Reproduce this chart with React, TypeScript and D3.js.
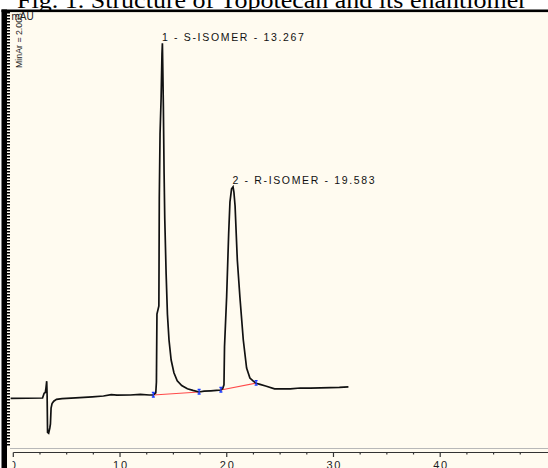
import React from "react";
import * as d3 from "d3";

const W = 548;
const H = 468;

// Chromatogram trace: time on the printed axis (min) and detector signal (mAU)
const traceTime = [
  -0.25, 2.74, 2.89, 3.0, 3.06, 3.13, 3.17, 3.21, 3.31, 3.42, 3.48, 3.54, 3.63, 3.79, 4.05, 4.57,
  5.83, 7.4, 8.45, 9.18, 9.71, 10.96, 11.91, 12.74, 13.12, 13.35, 13.41, 13.46, 13.64, 13.68,
  13.75, 13.85, 13.93, 13.97, 14.01, 14.06, 14.13, 14.19, 14.32, 14.44, 14.59, 14.79,
  15.05, 15.36, 15.78, 16.31, 16.83, 17.41, 17.88, 18.51, 19.03, 19.45, 19.62, 19.74, 19.79,
  19.99, 20.18, 20.3, 20.45, 20.59, 20.67, 20.78, 20.99, 21.23, 21.55, 21.86, 22.17, 22.49,
  22.75, 23.12, 23.64, 24.48, 25.21, 25.95, 26.89, 27.83, 28.78, 29.72, 30.55, 31.4,
];
const traceSignal = [
  -0.1, 0, 1.2, 1.4, 2.5, 4.2, 0.5, -8.6, -8.8, -7.5, -6.5, -2.5, -1.4, -0.8, -0.35, -0.15,
  0.05, 0.3, 0.5, 0.85, 0.7, 0.75, 0.9, 0.75, 0.75, 1.3, 4, 21, 23, 50,
  66, 75, 86, 88.7, 82, 73, 56, 45, 31, 21, 14.5, 9.5,
  6.3, 4.3, 3.1, 2.3, 1.9, 1.5, 1.7, 1.8, 1.9, 2.0, 2.4, 3.3, 12.8,
  25.3, 41.2, 49, 52.3, 52.8, 51.5, 48, 34.5, 25.3, 14.5, 7.5, 5, 4.2,
  3.7, 3.4, 3.0, 2.3, 2.3, 2.3, 2.5, 2.45, 2.55, 2.6, 2.65, 2.8,
];

const peakNames = ["1 - S-ISOMER - 13.267", "2 - R-ISOMER - 19.583"];
const peakTimes = [13.97, 20.59];
const peakHeights = [88.7, 52.8];

const baseStartTime = [13.12, 19.45];
const baseStartSignal = [0.75, 2.0];
const baseEndTime = [17.41, 22.75];
const baseEndSignal = [1.5, 3.7];

const majorTicks = [0, 10, 20, 30, 40];
const minorTicks = [2.5, 5, 7.5, 12.5, 15, 17.5, 22.5, 25, 27.5, 32.5, 35, 37.5, 42.5, 45, 47.5];

const titleText = "Fig. 1. Structure of Topotecan and its enantiomer";
const yAxisNote = "MinAr = 2.003";
const yUnit = "mAU";

export default function App() {
  const x = d3.scaleLinear().domain([0, 50.1]).range([13.3, 548]);
  const y = d3.scaleLinear().domain([-13.5, 96.5]).range([452, 12]);

  const line = d3
    .line<number>()
    .x((_, i) => x(traceTime[i]))
    .y((d) => y(d));
  const tracePath = line(traceSignal) || "";

  const markerPts: [number, number][] = [];
  baseStartTime.forEach((t, i) => {
    markerPts.push([x(t), y(baseStartSignal[i])]);
    markerPts.push([x(baseEndTime[i]), y(baseEndSignal[i])]);
  });

  const axisY = 452.5;
  const sans = "'Liberation Sans', Arial, sans-serif";

  return (
    <svg
      width={W}
      height={H}
      style={{ position: "absolute", left: 0, top: 0, display: "block" }}
    >
      <defs>
        <clipPath id="plotClip">
          <rect x={10} y={12} width={W - 10} height={H - 12} />
        </clipPath>
        <clipPath id="labelClip">
          <rect x={12.5} y={12} width={W - 12.5} height={H - 12} />
        </clipPath>
      </defs>
      <rect x={0} y={0} width={W} height={H} fill="#ffffff" />
      <text
        x={17}
        y={8}
        fontFamily="'Liberation Serif', 'Times New Roman', serif"
        fontSize={23}
        textLength={510}
        lengthAdjust="spacingAndGlyphs"
        fill="#000"
      >
        {titleText}
      </text>
      {/* plot background */}
      <rect x={7} y={12} width={W - 7} height={H - 12} fill="#fffbf0" />
      {/* frame */}
      <rect x={1.5} y={9.5} width={W - 1.5} height={2.6} fill="#000" />
      <rect x={1.5} y={9.5} width={5.5} height={H - 9.5} fill="#000" />
      <line
        x1={8.5}
        x2={8.5}
        y1={12}
        y2={446}
        stroke="#000"
        strokeWidth={3}
        strokeDasharray="1.6 1.4"
      />

      {/* x axis */}
      <line x1={10} x2={W} y1={448.5} y2={448.5} stroke="#b8b8b8" strokeWidth={1} />
      <line x1={x(0)} x2={W} y1={axisY} y2={axisY} stroke="#333" strokeWidth={1} />
      {majorTicks.map((t) => (
        <line key={"M" + t} x1={x(t)} x2={x(t)} y1={axisY} y2={axisY + 4.5} stroke="#333" strokeWidth={1.2} />
      ))}
      {minorTicks.map((t) => (
        <line key={"m" + t} x1={x(t)} x2={x(t)} y1={axisY} y2={axisY + 2} stroke="#333" strokeWidth={1.2} />
      ))}
      <g clipPath="url(#labelClip)">
        {majorTicks.map((t) => {
          const s = String(t);
          const len = s.length === 1 ? 7 : 14;
          return (
            <text
              key={"L" + t}
              x={x(t) - len / 2}
              y={468.5}
              fontFamily={sans}
              fontSize={11}
              textLength={len}
              lengthAdjust="spacing"
              fill="#222"
            >
              {s}
            </text>
          );
        })}
      </g>

      {/* y axis annotations */}
      <text
        transform="translate(22,68) rotate(-90)"
        fontFamily={sans}
        fontSize={9.5}
        textLength={55}
        lengthAdjust="spacingAndGlyphs"
        fill="#222"
      >
        {yAxisNote}
      </text>
      <text x={11.5} y={19.5} fontFamily={sans} fontSize={10} fill="#222">
        {yUnit}
      </text>

      <g clipPath="url(#plotClip)">
        {/* baselines */}
        {baseStartTime.map((t, i) => (
          <line
            key={"b" + i}
            x1={x(t)}
            y1={y(baseStartSignal[i])}
            x2={x(baseEndTime[i])}
            y2={y(baseEndSignal[i])}
            stroke="#ff4a4a"
            strokeWidth={1.2}
          />
        ))}
        <path d={tracePath} fill="none" stroke="#111" strokeWidth={1.7} strokeLinejoin="miter" />
        {markerPts.map(([mx, my], i) => (
          <path
            key={"mk" + i}
            d={`M${mx - 1.5},${my - 2.5}H${mx + 1.5}M${mx},${my - 2.5}V${my + 2}M${mx - 1.5},${my + 2}H${mx + 1.5}`}
            stroke="#1e3cff"
            strokeWidth={1.3}
            fill="none"
          />
        ))}
      </g>

      {/* peak labels */}
      {peakNames.map((name, i) => (
        <text
          key={"p" + i}
          x={x(peakTimes[i]) - 0.5}
          y={y(peakHeights[i]) - 2.5}
          fontFamily={sans}
          fontSize={10.5}
          textLength={142}
          lengthAdjust="spacing"
          fill="#111"
        >
          {name}
        </text>
      ))}
    </svg>
  );
}
